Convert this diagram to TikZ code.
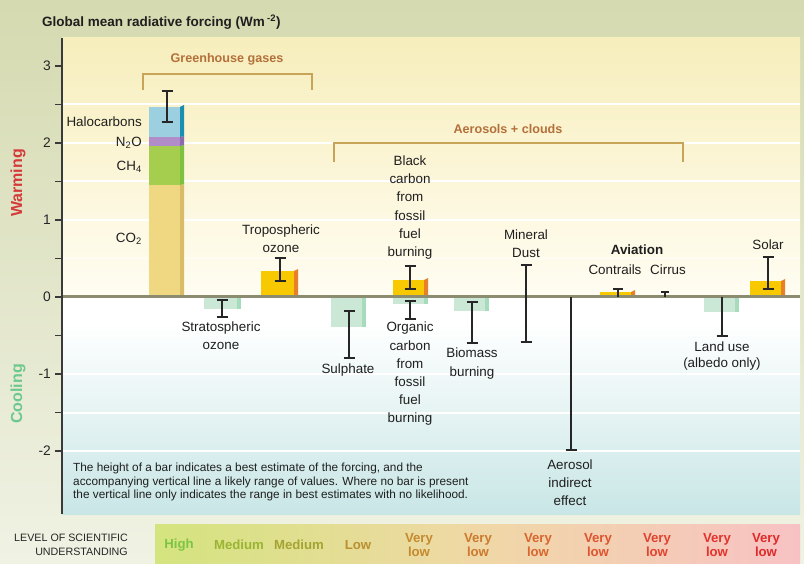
\documentclass[tikz,border=0pt]{standalone}
\usepackage{fontspec}
\setmainfont{Liberation Sans}
\definecolor{bgtop}{HTML}{D5DAB0}
\definecolor{bgbot}{HTML}{F0F2E4}
\definecolor{plottop}{HTML}{F7EEBC}
\definecolor{plotmid}{HTML}{FFFDF2}
\definecolor{plotbot}{HTML}{C9E6E6}
\definecolor{axiscol}{HTML}{3A3A3A}
\definecolor{zerocol}{HTML}{8C8C70}
\definecolor{brk}{HTML}{C8A458}
\definecolor{brktxt}{HTML}{B4703A}
\definecolor{co2}{HTML}{F0D882}
\definecolor{co2s}{HTML}{D8BC68}
\definecolor{ch4}{HTML}{A6CE4E}
\definecolor{ch4s}{HTML}{7EC040}
\definecolor{n2o}{HTML}{B08CC8}
\definecolor{n2os}{HTML}{8C6AAE}
\definecolor{halo}{HTML}{9CD0E0}
\definecolor{halos}{HTML}{1A8EAE}
\definecolor{yel}{HTML}{F8C800}
\definecolor{yels}{HTML}{E8802A}
\definecolor{grn}{HTML}{CBE8D6}
\definecolor{grns}{HTML}{A6DCBC}
\definecolor{warm}{HTML}{D43A3A}
\definecolor{cool}{HTML}{6CC88C}
\definecolor{lvlA}{HTML}{D4E47E}
\definecolor{lvlB}{HTML}{F0D8A6}
\definecolor{lvlC}{HTML}{F8C2C4}
\definecolor{cHigh}{HTML}{7CC444}
\definecolor{cMed}{HTML}{9CB434}
\definecolor{cMedb}{HTML}{A4A432}
\definecolor{cLow}{HTML}{B89030}
\definecolor{cV1}{HTML}{C48A30}
\definecolor{cV2}{HTML}{CC7A2E}
\definecolor{cV3}{HTML}{D8662E}
\definecolor{cV4}{HTML}{DE5430}
\definecolor{cV5}{HTML}{E04430}
\definecolor{cV6}{HTML}{E2342E}
\definecolor{cV7}{HTML}{E02A2A}
\newcommand\lblfont{\fontsize{13.4}{18.2}\selectfont}
\begin{document}
\begin{tikzpicture}[x=1pt,y=-1pt,
  lbl/.style={font=\lblfont, align=center, inner sep=0pt, text=black!88},
  eb/.style={line width=1.6pt, black!85},
  lvl/.style={font=\fontsize{13.2}{14}\selectfont\bfseries, align=center, inner sep=0pt},
  ticklbl/.style={font=\fontsize{13.8}{14}\selectfont, anchor=east, inner sep=0pt, text=black!85}]
\useasboundingbox (0,0) rectangle (804,564);
% background
\shade[top color=bgtop, bottom color=bgbot] (0,0) rectangle (804,564);
% plot area
\shade[top color=plottop, bottom color=plotmid] (62,38) rectangle (800,297);
\fill[white] (62,297) rectangle (800,322);
\shade[top color=white, bottom color=plotbot] (62,322) rectangle (800,514);
% grid lines
\foreach \v in {2.5,2,1.5,1,-1,-1.5,-2}
  \draw[white, line width=2pt] (62,{297-77*\v}) -- (800,{297-77*\v});
\foreach \v in {0.5,-0.5}
  \draw[white, line width=1.4pt, opacity=0.7] (62,{297-77*\v}) -- (800,{297-77*\v});
% title
\node[anchor=west, inner sep=0pt, font=\fontsize{13.5}{14}\selectfont\bfseries, text=black!88] (title) at (42,22) {Global mean radiative forcing (Wm\,\textsuperscript{-2})};
% warming / cooling
\node[rotate=90, font=\fontsize{16}{16}\selectfont\bfseries, text=warm, inner sep=0pt] (warm) at (18,183) {Warming};
\node[rotate=90, font=\fontsize{16}{16}\selectfont\bfseries, text=cool, inner sep=0pt] (cool) at (18,394) {Cooling};
% brackets
\draw[brk, line width=1.2pt] (143,90) -- (143,74) -- (312,74) -- (312,90);
\node[font=\fontsize{12.6}{14}\selectfont\bfseries, text=brktxt, inner sep=0pt] (ghg) at (227,59) {Greenhouse gases};
\draw[brk, line width=1.2pt] (334,162) -- (334,143) -- (683,143) -- (683,162);
\node[font=\fontsize{12.6}{14}\selectfont\bfseries, text=brktxt, inner sep=0pt] (aer) at (508,129) {Aerosols + clouds};
% CO2 stack
\fill[co2] (149,185) rectangle (180,297);
\fill[co2s] (180,185) -- (184,184) -- (184,297) -- (180,297) -- cycle;
\fill[ch4] (149,146) rectangle (180,185);
\fill[ch4s] (180,146) -- (184,145) -- (184,184) -- (180,185) -- cycle;
\fill[n2o] (149,137) rectangle (180,146);
\fill[n2os] (180,137) -- (184,136) -- (184,145) -- (180,146) -- cycle;
\fill[halo] (149,107) rectangle (180,137);
\fill[halos] (180,107) -- (184,105) -- (184,136) -- (180,137) -- cycle;
% positive yellow bars
\foreach \a/\b/\t in {261/294/271, 393/424/280, 600/631/292, 750/781/281}{
  \fill[yel] (\a,\t) rectangle (\b,297);
  \fill[yels] (\b,\t) -- ({\b+4},{\t-2}) -- ({\b+4},297) -- (\b,297) -- cycle;
}
% negative green bars
\foreach \a/\b/\t in {204/237/309, 331/362/327, 393/424/304, 454/485/311, 704/735/312}{
  \fill[grn] (\a,297) rectangle (\b,\t);
  \fill[grns] (\b,297) rectangle ({\b+4},\t);
}
% zero line
\draw[zerocol, line width=3pt] (62,297) -- (800,297);
% axis and ticks
\draw[axiscol, line width=1.3pt] (62,38) -- (62,514);
\foreach \v in {-2,-1.5,...,3}
  \draw[axiscol, line width=1.1pt] (55,{297-77*\v}) -- (62,{297-77*\v});
\foreach \v/\s in {3/3,2/2,1/1,0/0,-1/-1,-2/-2}
  \node[ticklbl] (t\v) at (51,{297-77*\v}) {\s};
% error bars
\draw[eb] (161.5,91) -- (172.5,91) (167,91) -- (167,122) (161.5,122) -- (172.5,122);
\draw[eb] (216.5,300) -- (227.5,300) (222,300) -- (222,317) (216.5,317) -- (227.5,317);
\draw[eb] (274.5,258) -- (285.5,258) (280,258) -- (280,281) (274.5,281) -- (285.5,281);
\draw[eb] (343.5,311) -- (354.5,311) (349,311) -- (349,358) (343.5,358) -- (354.5,358);
\draw[eb] (404.5,266) -- (415.5,266) (410,266) -- (410,289) (404.5,289) -- (415.5,289);
\draw[eb] (404.5,301) -- (415.5,301) (410,301) -- (410,319) (404.5,319) -- (415.5,319);
\draw[eb] (466.5,302) -- (477.5,302) (472,302) -- (472,343) (466.5,343) -- (477.5,343);
\draw[eb] (520.5,265) -- (531.5,265) (526,265) -- (526,342) (520.5,342) -- (531.5,342);
\draw[eb] (571,297) -- (571,450) (565.5,450) -- (576.5,450);
\draw[eb] (613,289) -- (623,289) (618,289) -- (618,297);
\draw[eb] (661,292) -- (669,292) (665,292) -- (665,297);
\draw[eb] (722,297) -- (722,336) (716.5,336) -- (727.5,336);
\draw[eb] (762.5,257) -- (773.5,257) (768,257) -- (768,289) (762.5,289) -- (773.5,289);
% gas labels
\node[lbl, anchor=east] (halolbl) at (142,122) {Halocarbons};
\node[lbl, anchor=east] (n2olbl) at (142,143) {N\textsubscript{2}O};
\node[lbl, anchor=east] (ch4lbl) at (142,167) {CH\textsubscript{4}};
\node[lbl, anchor=east] (co2lbl) at (142,239) {CO\textsubscript{2}};
% item labels
\node[lbl] (strat) at (221,336) {Stratospheric\\ozone};
\node[lbl] (trop) at (281,238.5) {Tropospheric\\ozone};
\node[lbl] (sulph) at (348,370) {Sulphate};
\node[lbl] (bc) at (410,207.5) {Black\\carbon\\from\\fossil\\fuel\\burning};
\node[lbl] (oc) at (410,374) {Organic\\carbon\\from\\fossil\\fuel\\burning};
\node[lbl] (bio) at (472,363.5) {Biomass\\burning};
\node[lbl] (dust) at (526,244) {Mineral\\Dust};
\node[lbl] (aie) at (570,483) {Aerosol\\indirect\\effect};
\node[lbl, font=\lblfont\bfseries] (avi) at (637,250) {Aviation};
\node[lbl] (contr) at (615,270) {Contrails};
\node[lbl] (cirr) at (668,270) {Cirrus};
\node[lbl] (solar) at (768,245) {Solar};
\node[lbl, font=\fontsize{13.4}{16.5}\selectfont] (land) at (722,356) {Land use\\(albedo only)};
% note
\node[anchor=west, align=left, inner sep=0pt, font=\fontsize{11.8}{13.8}\selectfont, text=black!88] (note) at (73,482)
  {The height of a bar indicates a best estimate of the forcing, and the\\
   accompanying vertical line a likely range of values. Where no bar is present\\
   the vertical line only indicates the range in best estimates with no likelihood.};
% level of scientific understanding
\shade[left color=lvlA, right color=lvlC, middle color=lvlB] (155,524) rectangle (800,564);
\node[anchor=east, align=right, inner sep=0pt, font=\fontsize{10.7}{14}\selectfont, text=black!85] (loso) at (128,545) {LEVEL OF SCIENTIFIC\\UNDERSTANDING};
\node[lvl, text=cHigh] (l1) at (179,545) {High};
\node[lvl, text=cMed] (l2) at (239,545) {Medium};
\node[lvl, text=cMedb] (l3) at (299,545) {Medium};
\node[lvl, text=cLow] (l4) at (358,545) {Low};
\node[lvl, text=cV1] (l5) at (419,545) {Very\\low};
\node[lvl, text=cV2] (l6) at (478,545) {Very\\low};
\node[lvl, text=cV3] (l7) at (538,545) {Very\\low};
\node[lvl, text=cV4] (l8) at (598,545) {Very\\low};
\node[lvl, text=cV5] (l9) at (657,545) {Very\\low};
\node[lvl, text=cV6] (l10) at (717,545) {Very\\low};
\node[lvl, text=cV7] (l11) at (766,545) {Very\\low};
\end{tikzpicture}
\end{document}
